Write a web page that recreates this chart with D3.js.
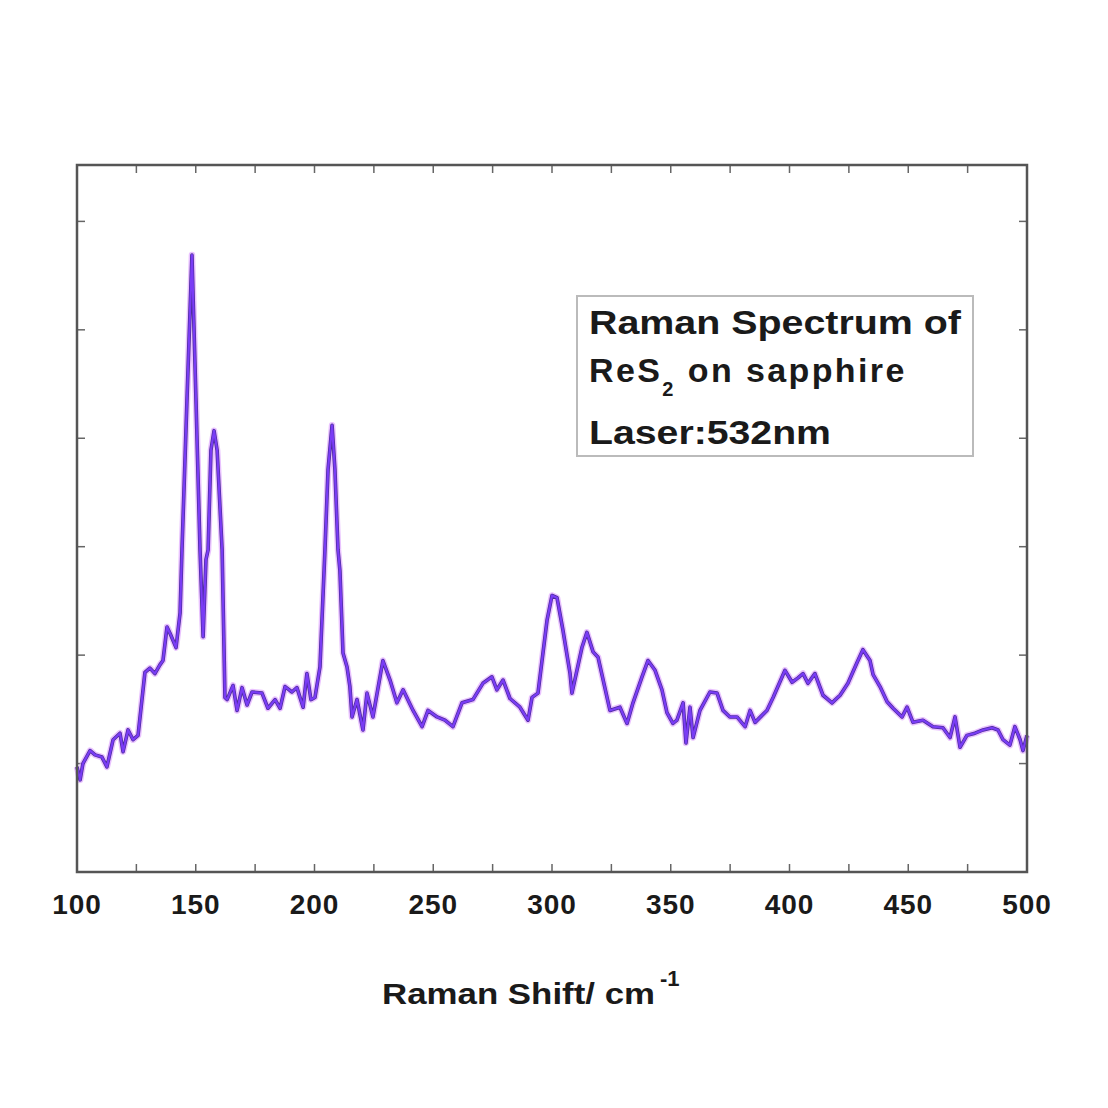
<!DOCTYPE html>
<html>
<head>
<meta charset="utf-8">
<script src="https://cdn.jsdelivr.net/npm/d3@7"></script>
<style>
  body { margin: 0; background: #fff; }
  text { font-family: "Liberation Sans", Arial, sans-serif; font-weight: bold; fill: #1a1a1a; }
</style>
</head>
<body>
<div id="chart"></div>
<script>
// Raman spectrum of ReS2 (x: Raman shift / cm-1, y: counts, arbitrary)
const shift = [
  100.0, 101.3, 102.5, 105.5, 107.6, 110.5, 112.6, 115.2, 118.1, 119.4,
  121.5, 123.6, 125.7, 128.6, 130.7, 132.8, 134.9, 136.2, 137.9, 139.2,
  141.7, 143.4, 144.2, 146.3, 148.4, 150.1, 151.8, 153.1, 154.3, 155.2,
  156.4, 157.7, 159.0, 161.1, 161.5, 162.3, 163.2, 165.7, 167.4, 169.5,
  171.6, 173.7, 177.9, 180.4, 183.4, 185.5, 187.6, 190.5, 192.6, 195.2,
  196.8, 198.5, 200.2, 202.3, 204.4, 205.7, 207.4, 208.6, 209.9, 210.7,
  212.0, 213.7, 214.9, 215.8, 217.9, 220.4, 222.1, 224.6, 228.8, 231.8,
  234.7, 237.3, 241.5, 245.3, 247.8, 251.6, 254.9, 258.3, 262.1, 266.7,
  270.9, 274.7, 276.8, 279.4, 282.3, 286.5, 289.9, 291.6, 294.1, 297.9,
  300.0, 302.1, 304.6, 307.6, 308.4, 310.5, 312.6, 314.7, 317.3, 319.4,
  324.4, 328.6, 331.6, 334.1, 337.9, 340.4, 343.4, 346.3, 348.4, 350.9,
  352.6, 355.2, 356.4, 358.1, 359.4, 362.3, 366.5, 369.5, 372.0, 374.9,
  377.9, 381.3, 383.4, 385.5, 390.5, 393.1, 398.1, 401.1, 403.6, 405.7,
  407.8, 410.7, 414.1, 417.9, 421.3, 424.6, 428.4, 430.9, 433.9, 435.2,
  438.1, 441.1, 443.6, 447.4, 449.5, 452.0, 456.2, 460.4, 464.6, 467.6,
  469.7, 471.8, 474.7, 478.1, 481.5, 485.3, 487.8, 489.9, 492.8, 494.9,
  497.1, 498.3, 500.0
];
const counts = [
  97, 85, 100, 112, 108, 106, 97, 122, 128, 111,
  131, 122, 126, 184, 188, 183, 191, 195, 226, 220,
  207, 239, 297, 435, 569, 435, 297, 217, 288, 297,
  389, 407, 389, 297, 251, 161, 159, 172, 149, 170,
  154, 166, 165, 151, 159, 151, 171, 166, 170, 152,
  183, 159, 161, 189, 297, 371, 412, 371, 297, 278,
  202, 189, 171, 143, 159, 131, 165, 143, 195, 177,
  156, 168, 149, 134, 149, 143, 140, 134, 156, 159,
  174, 180, 168, 177, 160, 152, 140, 161, 165, 232,
  255, 253, 223, 183, 165, 186, 207, 221, 203, 198,
  149, 152, 137, 156, 180, 195, 186, 168, 147, 137,
  140, 156, 119, 152, 124, 149, 166, 165, 149, 143,
  143, 134, 149, 138, 149, 161, 186, 175, 179, 183,
  174, 183, 163, 156, 163, 174, 193, 205, 195, 182,
  171, 157, 151, 143, 152, 138, 140, 134, 133, 124,
  143, 115, 126, 128, 131, 133, 131, 122, 117, 134,
  122, 112, 126
];
const xTickLabels = [100, 150, 200, 250, 300, 350, 400, 450, 500];
const legendLines = ['Raman Spectrum of', 'ReS', '2', ' on sapphire', 'Laser:532nm'];

const width = 1108, height = 1108;
const margin = { top: 165, right: 81, bottom: 236, left: 77 };
const innerW = width - margin.left - margin.right;
const innerH = height - margin.top - margin.bottom;

const svg = d3.select('#chart')
  .append('svg')
  .attr('width', width)
  .attr('height', height);

const g = svg.append('g')
  .attr('transform', `translate(${margin.left},${margin.top})`);

const x = d3.scaleLinear().domain([100, 500]).range([0, innerW]);
const y = d3.scaleLinear().domain([0, 652]).range([innerH, 0]);

const data = shift.map((s, i) => ({ s: s, c: counts[i] }));

// ticks, all pointing inward on every side
const tickLen = 8;
const xTicks = d3.range(100, 501, 25);
const yTicks = d3.range(0, 601, 100);
const tickColor = '#666';

g.selectAll('.xt-bottom')
  .data(xTicks)
  .join('line')
  .attr('x1', d => x(d)).attr('x2', d => x(d))
  .attr('y1', innerH).attr('y2', innerH - tickLen)
  .attr('stroke', tickColor).attr('stroke-width', 1.5);
g.selectAll('.xt-top')
  .data(xTicks)
  .join('line')
  .attr('x1', d => x(d)).attr('x2', d => x(d))
  .attr('y1', 0).attr('y2', tickLen)
  .attr('stroke', tickColor).attr('stroke-width', 1.5);
g.selectAll('.yt-left')
  .data(yTicks)
  .join('line')
  .attr('x1', 0).attr('x2', tickLen)
  .attr('y1', d => y(d)).attr('y2', d => y(d))
  .attr('stroke', tickColor).attr('stroke-width', 1.5);
g.selectAll('.yt-right')
  .data(yTicks)
  .join('line')
  .attr('x1', innerW).attr('x2', innerW - tickLen)
  .attr('y1', d => y(d)).attr('y2', d => y(d))
  .attr('stroke', tickColor).attr('stroke-width', 1.5);

// spectrum: soft violet halo, dark edge, bright core
const line = d3.line()
  .x(d => x(d.s))
  .y(d => y(d.c));

g.append('path')
  .datum(data)
  .attr('fill', 'none')
  .attr('stroke', '#e0a8ff')
  .attr('stroke-opacity', 0.7)
  .attr('stroke-width', 6.5)
  .attr('stroke-linejoin', 'round')
  .attr('d', line);
g.append('path')
  .datum(data)
  .attr('fill', 'none')
  .attr('stroke', '#4b2a9a')
  .attr('stroke-width', 3.6)
  .attr('stroke-linejoin', 'round')
  .attr('d', line);
g.append('path')
  .datum(data)
  .attr('fill', 'none')
  .attr('stroke', '#7a3cf5')
  .attr('stroke-width', 2.2)
  .attr('stroke-linejoin', 'round')
  .attr('d', line);

// frame
g.append('rect')
  .attr('width', innerW)
  .attr('height', innerH)
  .attr('fill', 'none')
  .attr('stroke', '#555')
  .attr('stroke-width', 2.5);

// x tick labels
g.selectAll('.xlab')
  .data(xTickLabels)
  .join('text')
  .attr('x', d => x(d))
  .attr('y', innerH + 42)
  .attr('text-anchor', 'middle')
  .attr('font-size', 28)
  .attr('letter-spacing', 1)
  .text(d => d);

// axis title
svg.append('text')
  .attr('x', 382)
  .attr('y', 1004)
  .attr('font-size', 30)
  .attr('textLength', 273).attr('lengthAdjust', 'spacingAndGlyphs')
  .text('Raman Shift/ cm');
svg.append('text')
  .attr('x', 660)
  .attr('y', 986)
  .attr('font-size', 22)
  .text('-1');

// legend box
const box = svg.append('g').attr('transform', 'translate(577,296)');
box.append('rect')
  .attr('width', 396)
  .attr('height', 160)
  .attr('fill', '#fff')
  .attr('stroke', '#bbb')
  .attr('stroke-width', 2);

box.append('text')
  .attr('x', 12).attr('y', 38)
  .attr('font-size', 34)
  .attr('textLength', 372).attr('lengthAdjust', 'spacingAndGlyphs')
  .text(legendLines[0]);

const l2 = box.append('text')
  .attr('x', 12).attr('y', 86)
  .attr('font-size', 34)
  .attr('letter-spacing', 2.4);
l2.append('tspan').text(legendLines[1]);
l2.append('tspan').attr('dy', 14).attr('font-size', 20).text(legendLines[2]);
l2.append('tspan').attr('dy', -14).text(legendLines[3]);

box.append('text')
  .attr('x', 12).attr('y', 148)
  .attr('font-size', 34)
  .attr('textLength', 242).attr('lengthAdjust', 'spacingAndGlyphs')
  .text(legendLines[4]);
</script>
</body>
</html>
